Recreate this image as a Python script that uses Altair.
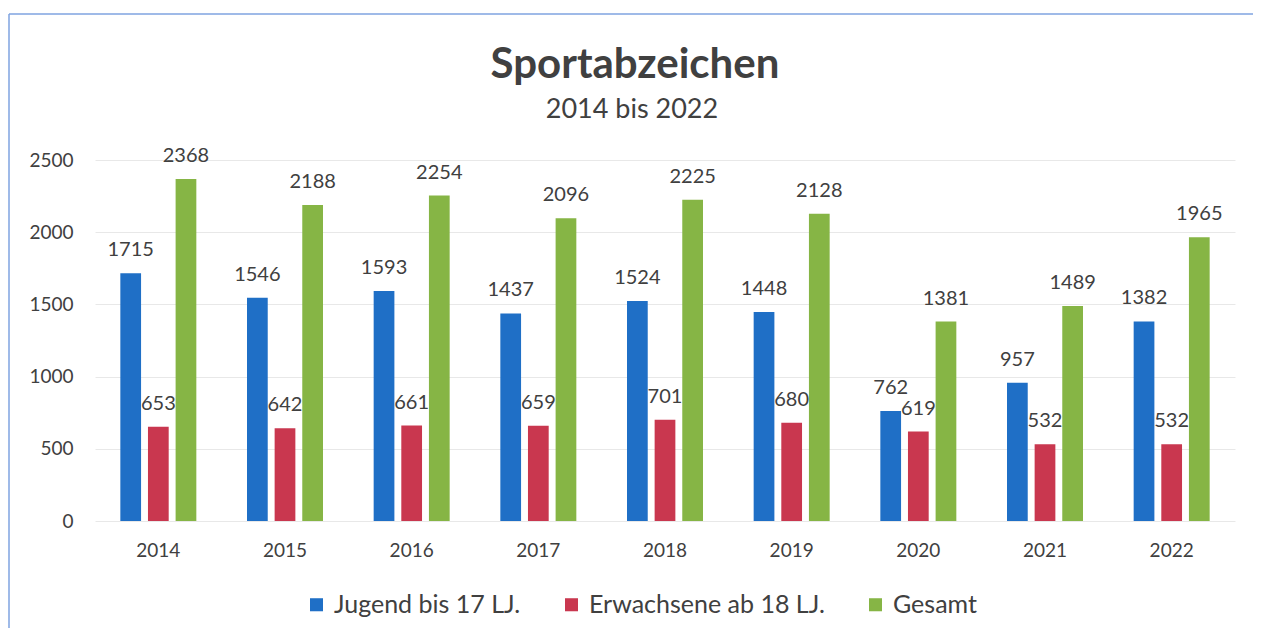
import altair as alt
import pandas as pd

years = ["2014", "2015", "2016", "2017", "2018", "2019", "2020", "2021", "2022"]
series = ["Jugend bis 17 LJ.", "Erwachsene ab 18 LJ.", "Gesamt"]
jugend = [1715, 1546, 1593, 1437, 1524, 1448, 762, 957, 1382]
erwachsene = [653, 642, 661, 659, 701, 680, 619, 532, 532]
gesamt = [2368, 2188, 2254, 2096, 2225, 2128, 1381, 1489, 1965]
colors = ["#1f6fc6", "#c9374f", "#86b545"]
title_text = "Sportabzeichen"
subtitle_text = "2014 bis 2022"

rows = []
for i, y in enumerate(years):
    for s, vals in zip(series, [jugend, erwachsene, gesamt]):
        rows.append({"Jahr": y, "Gruppe": s, "Wert": vals[i]})
df = pd.DataFrame(rows)

FONT = "Lato"
TXT = "#404040"

x = alt.X("Jahr:N", sort=years, title=None,
          scale=alt.Scale(paddingInner=0.4, paddingOuter=0.2),
          axis=alt.Axis(labelAngle=0, labelFontSize=19, labelColor=TXT, labelFont=FONT,
                        domain=False, ticks=False, grid=False, labelPadding=20))
xo = alt.XOffset("Gruppe:N", sort=series, scale=alt.Scale(paddingInner=0.25, paddingOuter=0))
y = alt.Y("Wert:Q", title=None,
          scale=alt.Scale(domain=[0, 2500]),
          axis=alt.Axis(values=[0, 500, 1000, 1500, 2000, 2500], format="d",
                        labelFontSize=19, labelColor=TXT, labelFont=FONT,
                        domain=False, ticks=False, labelPadding=22,
                        gridColor="#e8e8e8", gridWidth=1))
color = alt.Color("Gruppe:N", sort=series, title=None,
                  scale=alt.Scale(domain=series, range=colors),
                  legend=alt.Legend(orient="none", direction="horizontal",
                                    legendX=209, legendY=432,
                                    symbolType="square", symbolSize=170,
                                    symbolStrokeWidth=0, labelFontSize=25,
                                    labelFont=FONT, labelColor=TXT, labelLimit=400,
                                    columnPadding=38, labelOffset=5))

base = alt.Chart(df)
bars = base.mark_bar().encode(x=x, xOffset=xo, y=y, color=color)
labels = base.mark_text(dy=-17, baseline="alphabetic", fontSize=20, font=FONT,
                        color=TXT).encode(x=x, xOffset=xo, y=y,
                                          text=alt.Text("Wert:Q"))

frame = pd.DataFrame({"k": [0]})
left_line = alt.Chart(frame).mark_rule(color="#7fa3e0", strokeWidth=1.5).encode(
    x=alt.value(-86), y=alt.value(-146), y2=alt.value(480))
top_line = alt.Chart(frame).mark_rule(color="#7fa3e0", strokeWidth=1.5).encode(
    x=alt.value(-86), x2=alt.value(1160), y=alt.value(-146))
title_mark = alt.Chart(frame).mark_text(fontSize=42, font=FONT, fontWeight="bold",
                                        color=TXT, baseline="alphabetic",
                                        align="center").encode(
    x=alt.value(540), y=alt.value(-82), text=alt.value(title_text))
subtitle_mark = alt.Chart(frame).mark_text(fontSize=27, font=FONT, color=TXT,
                                           baseline="alphabetic",
                                           align="center").encode(
    x=alt.value(537), y=alt.value(-42), text=alt.value(subtitle_text))

chart = alt.layer(bars, labels, left_line, top_line, title_mark, subtitle_mark).properties(
    width=1140, height=361,
    autosize=alt.AutoSizeParams(type="none"),
    padding={"left": 87, "top": 152, "right": 18, "bottom": 107},
).configure(background="white").configure_view(stroke="transparent", strokeWidth=0)

chart.save("out.html", embed_options={"renderer": "svg", "actions": False})
